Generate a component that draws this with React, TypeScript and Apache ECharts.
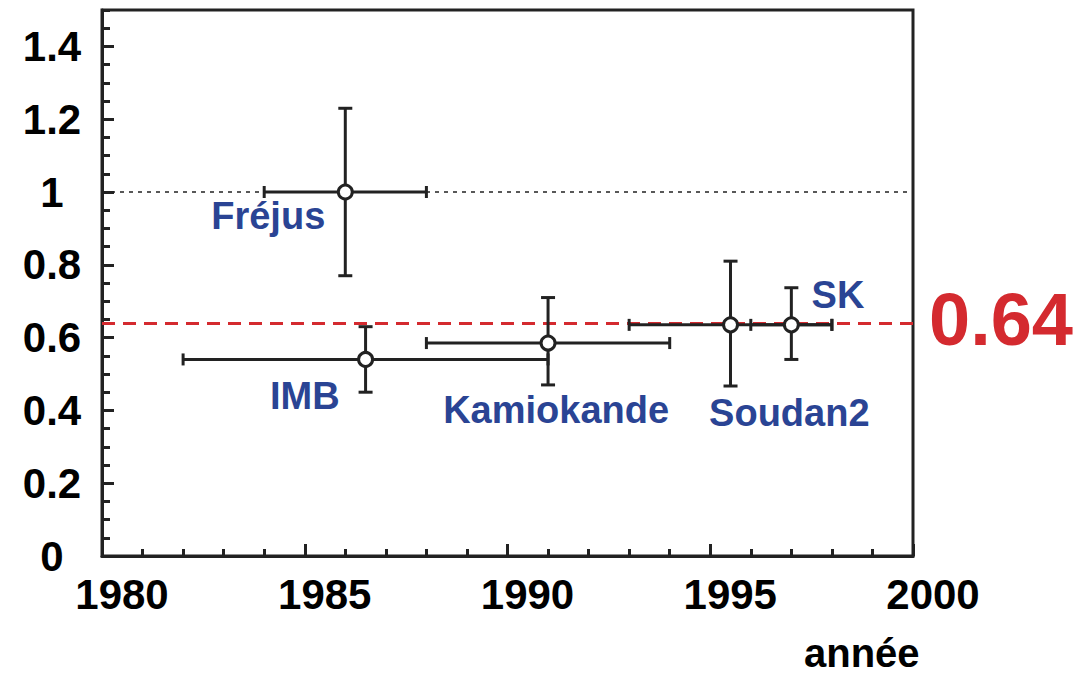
import React, { useEffect, useRef } from 'react';
import * as echarts from 'echarts';

// ---- data ----
const experiments = ['Fréjus', 'IMB', 'Kamiokande', 'Soudan2', 'SK'];
const years = [1986.0, 1986.5, 1991.0, 1995.5, 1997.0];
const yearLow = [1984.0, 1982.0, 1988.0, 1993.0, 1996.0];
const yearHigh = [1988.0, 1991.0, 1994.0, 1998.0, 1998.0];
const ratios = [1.0, 0.54, 0.585, 0.635, 0.635];
const ratioLow = [0.77, 0.45, 0.47, 0.467, 0.54];
const ratioHigh = [1.23, 0.63, 0.71, 0.81, 0.737];
// annotation anchor points (data units)
const labelYears = [1984.1, 1985.0, 1991.2, 1996.95, 1998.15];
const labelRatios = [0.935, 0.44, 0.4, 0.393, 0.717];
const averageRatio = 0.64;
const referenceRatio = 1;
const xTicks = [1980, 1985, 1990, 1995, 2000];
const yTicks = [0, 0.2, 0.4, 0.6, 0.8, 1, 1.2, 1.4];

const FONT = '"Liberation Sans", "DejaVu Sans", sans-serif';
const INK = '#222222';
const BLUE = '#2a4494';
const RED = '#d42a2f';

export default function App() {
  const ref = useRef<HTMLDivElement>(null);
  useEffect(() => {
    if (!ref.current) return;
    const chart = echarts.init(ref.current, undefined, { renderer: 'svg' });
    const errData = experiments.map((_, i) => [
      years[i], ratios[i], yearLow[i], yearHigh[i], ratioLow[i], ratioHigh[i],
    ]);
    const labelData = experiments.map((n, i) => ({ name: n, value: [labelYears[i], labelRatios[i]] }));

    const option: any = {
      animation: false,
      backgroundColor: '#ffffff',
      grid: {
        left: 102, top: 10, width: 811, height: 546,
        show: true, borderColor: INK, borderWidth: 3, backgroundColor: 'transparent',
      },
      xAxis: {
        type: 'value',
        min: xTicks[0], max: xTicks[xTicks.length - 1], interval: 5,
        axisLine: { show: true, lineStyle: { color: INK, width: 3 } },
        axisTick: { show: true, inside: true, length: 12, lineStyle: { color: INK, width: 3 } },
        minorTick: { show: true, splitNumber: 5, length: 7, lineStyle: { color: INK, width: 3 } },
        splitLine: { show: false },
        axisLabel: {
          margin: 17, color: '#000', fontFamily: FONT, fontWeight: 'bold', fontSize: 42,
          align: 'center', padding: [0, 0, 0, 40],
          formatter: (v: number) => String(v),
        },
      },
      yAxis: [
        {
          type: 'value', min: 0, max: 1.5, interval: 0.2,
          axisLine: { show: true, lineStyle: { color: INK, width: 3 } },
          axisTick: { show: true, inside: true, length: 12, lineStyle: { color: INK, width: 3 } },
          splitLine: { show: false },
          axisLabel: {
            margin: 50, align: 'center', color: '#000', fontFamily: FONT, fontWeight: 'bold', fontSize: 42,
            showMaxLabel: false,
            formatter: (v: number) => (yTicks.some((t) => Math.abs(t - v) < 1e-9) ? String(v) : ''),
          },
        },
        {
          type: 'value', min: 0, max: 1.5, interval: 0.05, position: 'left',
          axisLine: { show: false },
          axisTick: { show: true, inside: true, length: 8, lineStyle: { color: INK, width: 3 } },
          splitLine: { show: false },
          axisLabel: { show: false },
        },
      ],
      series: [
        {
          type: 'line', data: [], silent: true, z: 1,
          markLine: {
            silent: true, symbol: 'none', animation: false,
            data: [
              {
                yAxis: referenceRatio,
                lineStyle: { color: INK, width: 1.5, type: [4, 5] },
                label: { show: false },
              },
              {
                yAxis: averageRatio,
                lineStyle: { color: RED, width: 3, type: [13, 8] },
                label: {
                  show: true, position: 'end', distance: 16, formatter: String(averageRatio),
                  color: RED, fontFamily: FONT, fontWeight: 'bold', fontSize: 74, offset: [0, -4],
                },
              },
            ],
          },
        },
        {
          type: 'custom', z: 5, data: errData,
          encode: { x: 0, y: 1 },
          renderItem: (params: any, api: any) => {
            const x = api.value(0), y = api.value(1);
            const c = api.coord([x, y]);
            const pl = api.coord([api.value(2), y]);
            const ph = api.coord([api.value(3), y]);
            const pb = api.coord([x, api.value(4)]);
            const pt = api.coord([x, api.value(5)]);
            const style = { stroke: INK, lineWidth: 3, fill: null };
            const ln = (x1: number, y1: number, x2: number, y2: number) => ({
              type: 'line', shape: { x1, y1, x2, y2 }, style,
            });
            return {
              type: 'group',
              children: [
                ln(pl[0], pl[1], ph[0], ph[1]),
                ln(pt[0], pt[1], pb[0], pb[1]),
                ln(pl[0], pl[1] - 6, pl[0], pl[1] + 6),
                ln(ph[0], ph[1] - 6, ph[0], ph[1] + 6),
                ln(pt[0] - 7, pt[1], pt[0] + 7, pt[1]),
                ln(pb[0] - 7, pb[1], pb[0] + 7, pb[1]),
                { type: 'circle', shape: { cx: c[0], cy: c[1], r: 7 }, style: { fill: '#fff', stroke: INK, lineWidth: 3 } },
              ],
            };
          },
        },
        {
          type: 'scatter', z: 6, data: labelData, symbolSize: 1,
          itemStyle: { color: 'transparent', opacity: 1 },
          label: {
            show: true, position: 'inside', formatter: '{b}', opacity: 1,
            color: BLUE, fontFamily: FONT, fontWeight: 'bold', fontSize: 38,
          },
        },
      ],
      graphic: [
        {
          type: 'text', left: 804, top: 633,
          style: { text: 'année', fill: '#000', font: `bold 40px ${FONT}` },
        },
      ],
    };
    chart.setOption(option);
    return () => chart.dispose();
  }, []);
  return <div ref={ref} style={{ position: 'absolute', left: 0, top: 0, width: 1090, height: 674 }} />;
}
